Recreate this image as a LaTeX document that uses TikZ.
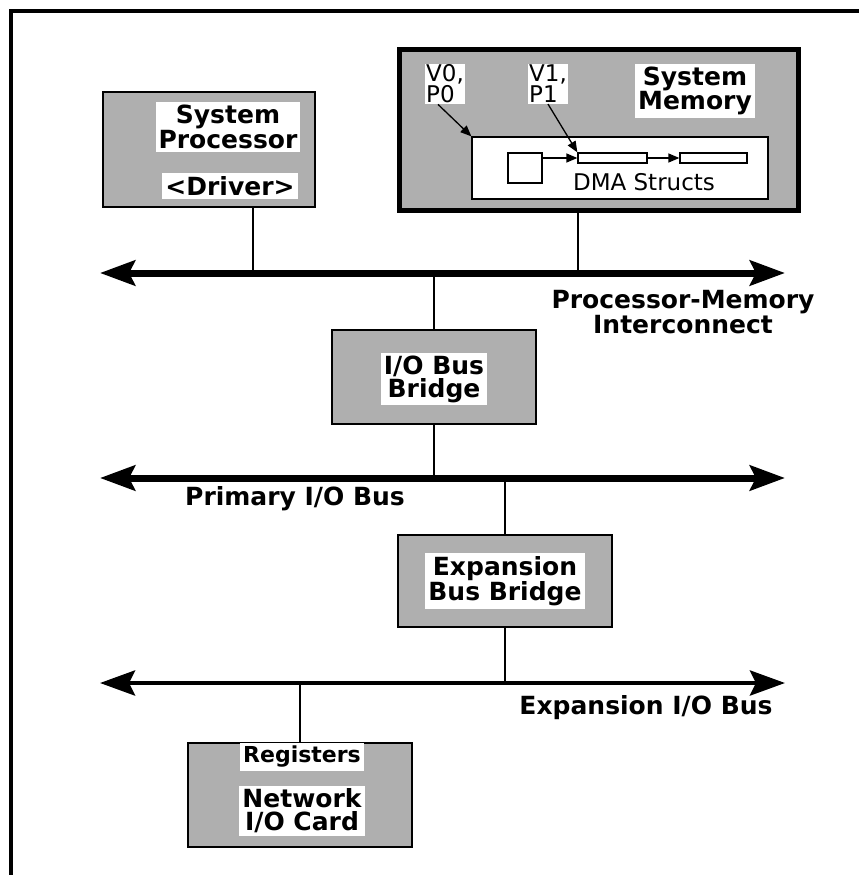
\documentclass[tikz,border=0pt]{standalone}
\usepackage{fontspec}
\setmainfont{DejaVu Sans}
\usepackage{tikz}
\usetikzlibrary{arrows.meta, positioning}
\definecolor{stipple}{RGB}{175, 175, 175}

\begin{document}
\begin{tikzpicture}[x=1pt, y=-1pt,
    unit/.style={draw, line width=2.5pt, fill=stipple, inner sep=0pt},
    band/.style={fill=white, inner sep=3pt, align=center, font=\fontsize{25}{23}\selectfont\bfseries},
    tag/.style={fill=white, inner sep=1pt, align=left, font=\fontsize{23}{21}\selectfont},
    buslabel/.style={align=center, font=\fontsize{25}{23}\selectfont\bfseries},
    slot/.style={draw, line width=1.3pt, fill=white, inner sep=0pt},
    bus/.style={line width=7pt, {Stealth[length=35pt, width=25pt, inset=6pt]}-{Stealth[length=35pt, width=25pt, inset=6pt]}},
    tap/.style={line width=2pt},
    link/.style={-{Triangle[length=11pt, width=9pt]}, line width=1.3pt},
]
\useasboundingbox (0, 0) rectangle (859, 875);

% Frame
\draw[line width=4pt] (11, 875) -- (11, 11) -- (859, 11);

% System processor
\node[unit, minimum width=212, minimum height=115] (proc) at (209, 149.5) {};
\node[band] (proctxt) at (228, 127) {System\\Processor};
\node[band] (drv) at (230, 186) {<Driver>};

% System memory
\node[unit, line width=5pt, minimum width=399, minimum height=160] (mem) at (598.5, 130) {};
\node[band] (memtxt) at (695, 91) {System\\Memory};
\node[tag] (v0) at (445, 84) {V0,\\P0};
\node[tag] (v1) at (548, 84) {V1,\\P1};
\node[slot, minimum width=296, minimum height=62] (dma) at (620, 168) {};
\node[slot, minimum width=34, minimum height=30] (head) at (525, 168) {};
\node[slot, minimum width=69, minimum height=10] (buf1) at (612.5, 158) {};
\node[slot, minimum width=67, minimum height=10] (buf2) at (713.5, 158) {};
\node[font=\fontsize{23}{23}\selectfont] (dmatxt) at (644, 182) {DMA Structs};
\draw[link] ([xshift=-7pt]v0.south) -- (dma.north west);
\draw[link] (v1.south) -- (buf1.north west);
\draw[link] (head.east |- buf1.west) -- (buf1.west);
\draw[link] (buf1) -- (buf2);

% Processor-memory interconnect
\coordinate (pmL) at (100, 273);
\coordinate (pmR) at (785, 273);
\coordinate (pm1) at (253, 273);
\coordinate (pm2) at (578, 273);
\draw[bus] (pmL) -- (pmR);
\node[buslabel] (pmtxt) at (683, 312) {Processor-Memory\\Interconnect};

% I/O bus bridge
\node[unit, minimum width=204, minimum height=94] (iob) at (434, 377) {};
\node[band] (iobtxt) at (434, 379) {I/O Bus\\Bridge};

% Primary I/O bus
\coordinate (pL) at (100, 478);
\coordinate (pR) at (785, 478);
\draw[bus] (pL) -- (pR);
\node[buslabel] (ptxt) at (295, 499) {Primary I/O Bus};

% Expansion bus bridge
\node[unit, minimum width=214, minimum height=92] (xb) at (505, 581) {};
\node[band] (xbtxt) at (505, 581) {Expansion\\Bus Bridge};

% Expansion I/O bus
\coordinate (xL) at (100, 683);
\coordinate (xR) at (785, 683);
\draw[bus, line width=4.5pt] (xL) -- (xR);
\node[buslabel] (xtxt) at (646, 708) {Expansion I/O Bus};

% Network card
\node[unit, minimum width=224, minimum height=104] (nic) at (300, 795) {};
\node[band, font=\fontsize{22}{22}\selectfont\bfseries] (regs) at (302, 757) {Registers};
\node[band] (nictxt) at (302, 811) {Network\\I/O Card};

% Taps
\draw[tap] (pm1 |- proc.south) -- (pm1);
\draw[tap] (pm2 |- mem.south) -- (pm2);
\draw[tap] (iob.north) -- (iob.north |- pmL);
\draw[tap] (iob.south) -- (iob.south |- pL);
\draw[tap] (xb.north) -- (xb.north |- pL);
\draw[tap] (xb.south) -- (xb.south |- xL);
\draw[tap] (nic.north) -- (nic.north |- xL);
\end{tikzpicture}
\end{document}
